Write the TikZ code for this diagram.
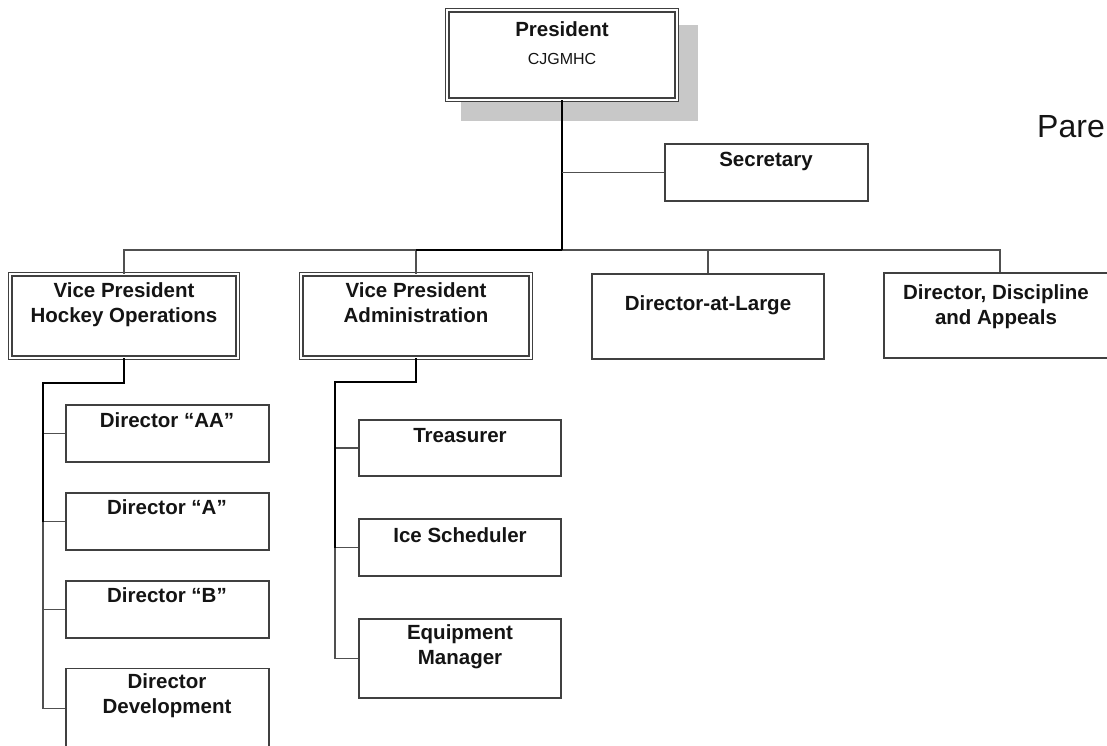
\documentclass[tikz,border=0pt]{standalone}
\usepackage{fontspec}
\setmainfont{Liberation Sans}
\usetikzlibrary{backgrounds,calc}
\definecolor{boxgray}{HTML}{404040}
\definecolor{linegray}{HTML}{505050}
\definecolor{shadowgray}{HTML}{C8C8C8}
\definecolor{txt}{HTML}{141414}
\begin{document}
\begin{tikzpicture}[x=1pt,y=-1pt,
  box/.style={draw=boxgray, line width=1.6pt, fill=white, inner sep=0pt, rectangle},
  dbox/.style={draw=boxgray, line width=1.4pt, double=white, double distance=2pt, fill=white, inner sep=0pt, rectangle},
  lbl/.style={font=\fontsize{20.5}{25}\selectfont\bfseries, text=txt, inner sep=0pt, align=center},
  thinline/.style={draw=linegray, line width=1.4pt},
  thickline/.style={draw=black, line width=2pt},
  mainline/.style={draw=black, line width=2.6pt},
]
\useasboundingbox (0,0) rectangle (1107,746);
\clip (0,0) rectangle (1107,746);

% President
\node[dbox, minimum width=229.2pt, minimum height=89.2pt] (pres) at (562,55) {};
\begin{scope}[on background layer]
  \fill[shadowgray] ($(pres.north west)+(14.6,15.6)$) rectangle ($(pres.south east)+(20.4,20.4)$);
\end{scope}
\node[lbl, anchor=base] (prest) at (562,37) {President};
\node[font=\fontsize{16}{19}\selectfont, text=txt, inner sep=0pt, anchor=base] (presc) at (562,65) {CJGMHC};

% Secretary
\node[box, minimum width=203.4pt, minimum height=57.4pt] (sec) at (766.5,172.5) {};
\node[lbl, anchor=base] (sect) at (766,167) {Secretary};

% Second tier
\node[dbox, minimum width=227.2pt, minimum height=83.2pt] (vph) at (124,316) {};
\node[lbl, anchor=north] (vpht) at (124,282) {Vice President\\Hockey Operations};
\node[dbox, minimum width=229.2pt, minimum height=83.2pt] (vpa) at (416,316) {};
\node[lbl, anchor=north] (vpat) at (416,282) {Vice President\\Administration};
\node[box, minimum width=232.4pt, minimum height=85.4pt] (dal) at (708,316.5) {};
\node[lbl, anchor=base] (dalt) at (708,310) {Director-at-Large};
\node[box, minimum width=232.4pt, minimum height=85.4pt] (ddp) at (1000,315.5) {};
\node[lbl, anchor=north] (ddpt) at (996,284) {Director, Discipline\\and Appeals};

% Hockey operations children
\node[box, minimum width=203.4pt, minimum height=57.4pt] (dAA) at (167.5,433.5) {};
\node[lbl, anchor=base] (dAAt) at (167,427) {Director “AA”};
\node[box, minimum width=203.4pt, minimum height=57.4pt] (dA) at (167.5,521.5) {};
\node[lbl, anchor=base] (dAt) at (167,514) {Director “A”};
\node[box, minimum width=203.4pt, minimum height=57.4pt] (dB) at (167.5,609.5) {};
\node[lbl, anchor=base] (dBt) at (167,602) {Director “B”};
\node[box, minimum width=203.4pt, minimum height=80.4pt] (dDev) at (167.5,708.5) {};
\node[lbl, anchor=north] (dDevt) at (167,673) {Director\\Development};

% Administration children
\node[box, minimum width=202.4pt, minimum height=56.4pt] (tre) at (460,448) {};
\node[lbl, anchor=base] (tret) at (460,442) {Treasurer};
\node[box, minimum width=202.4pt, minimum height=57.4pt] (ice) at (460,547.5) {};
\node[lbl, anchor=base] (icet) at (460,542) {Ice Scheduler};
\node[box, minimum width=202.4pt, minimum height=79.4pt] (eqm) at (460,658.5) {};
\node[lbl, anchor=north] (eqmt) at (460,624) {Equipment\\Manager};

% Title fragment
\node[font=\fontsize{32}{38}\selectfont, text=txt, inner sep=0pt, anchor=base west] (pare) at (1037,138) {Pare};

% Connectors
\coordinate (bus) at (562,250);
\coordinate (hk) at (43,383);
\coordinate (ad) at (335,382);

\draw[thinline] (vph.north) |- (ddp.north |- bus) -- (ddp.north);
\draw[thinline] (vpa.north |- bus) -- (vpa.north);
\draw[thinline] (dal.north |- bus) -- (dal.north);
\draw[thickline] (vpa.north |- bus) -- (bus);
\draw[mainline] (pres.south) -- (bus);
\draw[thinline] (sec.west -| bus) -- (sec.west);

\draw[thinline] (hk |- dA.west) -- (hk |- dDev.west) -- (dDev.west);
\draw[thinline] (hk |- dAA.west) -- (dAA.west);
\draw[thinline] (hk |- dA.west) -- (dA.west);
\draw[thinline] (hk |- dB.west) -- (dB.west);
\draw[thickline] (vph.south) |- (hk) -- (hk |- dA.west);

\draw[thinline] (ad |- ice.west) -- (ad |- eqm.west) -- (eqm.west);
\draw[thinline] (ad |- tre.west) -- (tre.west);
\draw[thinline] (ad |- ice.west) -- (ice.west);
\draw[thickline] (vpa.south) |- (ad) -- (ad |- ice.west);
\end{tikzpicture}
\end{document}
